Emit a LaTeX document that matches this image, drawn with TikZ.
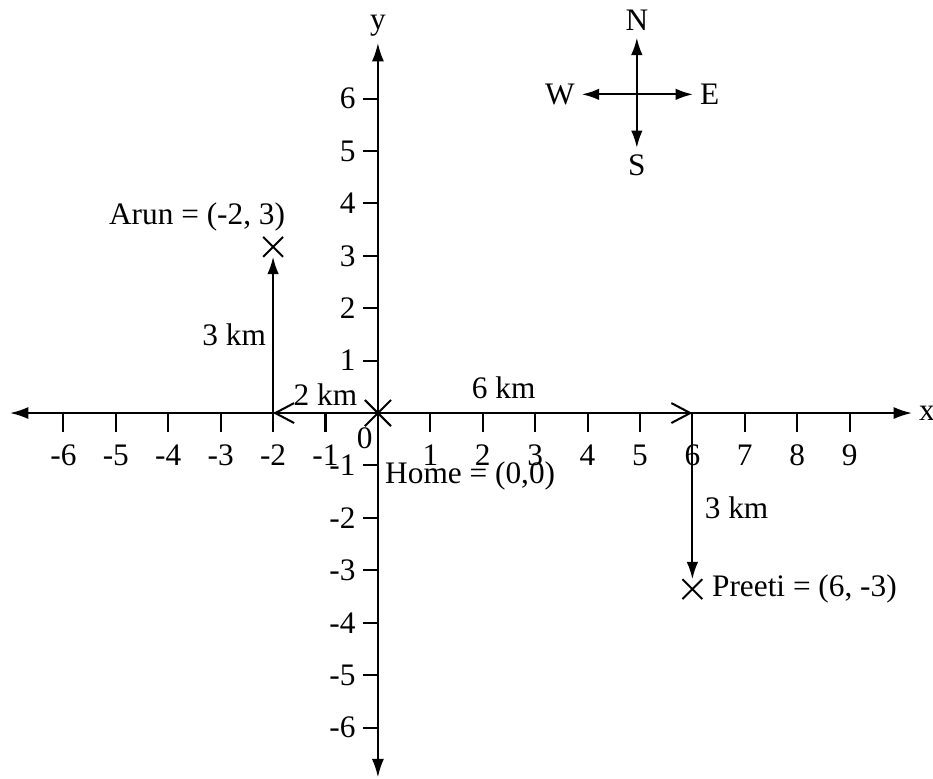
\documentclass[tikz,border=0pt]{standalone}
\usepackage{fontspec}
\setmainfont{Liberation Serif}
\usetikzlibrary{arrows.meta,shapes.misc,positioning}

\tikzset{
  axe/.style={{Latex[length=3.5mm,width=2.3mm]}-{Latex[length=3.5mm,width=2.3mm]}},
  trajet/.style={-{Latex[length=3.3mm,width=2.2mm]}},
  ouvert/.style={-{Straight Barb[length=3.6mm,width=3.8mm]}},
  croix/.style={draw, cross out, minimum size=#1, inner sep=0pt},
  croix/.default=3.4mm
}

\begin{document}
\begin{tikzpicture}[font=\fontsize{17}{20}\selectfont, line width=1.1pt]
\useasboundingbox (-7.21,-6.98) rectangle (10.59,7.88);

%axes
\coordinate (xg) at (-7.02,0);
\coordinate (xd) at (10.19,0);
\coordinate (yb) at (0,-6.95);
\coordinate (yh) at (0,7.06);
\draw[axe] (xg) -- (xd) node[right] {x};
\draw[axe] (yb) -- (yh) node[above] {y};

%graduations
\foreach \x in {-6,...,-1,1,2,...,9}
  {\draw (\x,0) -- (\x,-0.36); \node at (\x,-0.8) {\x};}
\foreach \y in {-6,...,-1,1,2,...,6}
  {\draw (0,\y) -- (-0.29,\y) node[left] {\y};}
\node at (-0.25,-0.48) {0};

%maison
\node[croix=4.6mm] (home) at (0,0) {};
\node at (1.76,-1.2) {Home = (0,0)};

%Arun
\coordinate (a0) at (-2,0);
\node[croix] (arun) at (-2,3.17) {};
\draw[ouvert] (home.center) -- (a0) node[midway, above] {2 km};
\draw[trajet] (a0) -- (arun.south) node[midway, left] {3 km};
\node at (-3.45,3.74) {Arun = (-2, 3)};

%Preeti
\coordinate (p0) at (6,0);
\node[croix] (preeti) at (6,-3.36) {};
\draw[ouvert] (home.center) -- (p0) node[pos=0.4, above=1.3mm] {6 km};
\draw[trajet] (p0) -- (preeti.north);
\node[right] at (6.1,-1.81) {3 km};
\node[right=0.5mm of preeti.east] {Preeti = (6, -3)};

%rose des vents
\coordinate (C) at (4.94,6.08);
\node[above] (N) at (4.94,7.16) {N};
\node[below] (S) at (4.94,5.06) {S};
\node[left] (W) at (3.89,6.08) {W};
\node[right] (E) at (6.01,6.08) {E};
\draw[trajet] (C) -- (N.south);
\draw[trajet] (C) -- (S.north);
\draw[trajet] (C) -- (W.east);
\draw[trajet] (C) -- (E.west);
\end{tikzpicture}
\end{document}
